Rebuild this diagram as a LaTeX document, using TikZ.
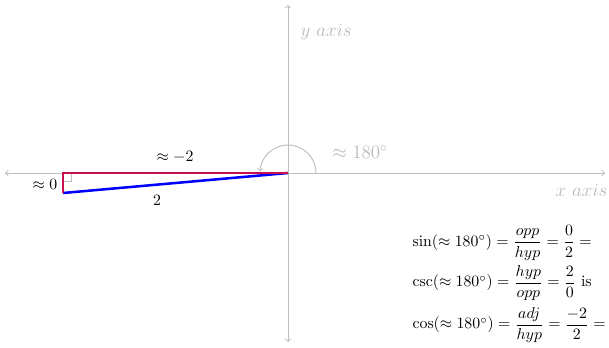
\documentclass[tikz,border=0pt]{standalone}
\usepackage{amsmath}
\definecolor{axisgray}{RGB}{190,190,190}
\definecolor{lblgray}{RGB}{185,185,185}
\definecolor{oppred}{RGB}{200,16,80}
\begin{document}
\begin{tikzpicture}[x=0.633pt,y=0.633pt,
  axis/.style={draw=axisgray,semithick},
  lbl/.style={text=lblgray,font=\fontsize{11.6}{14}\selectfont},
  side/.style={line width=1.6pt},
  txt/.style={text=black}]
\useasboundingbox (-288,-174) rectangle (321,173);
\coordinate (O) at (0,0);
\coordinate (xl) at (-283,0);
\coordinate (xr) at (317,0);
\coordinate (yt) at (0,168);
\coordinate (yb) at (0,-169);
\coordinate (A) at (-225,0);
\coordinate (B) at (-225,-20);
\coordinate (arcstart) at (28,0);
\draw[axis,<->] (xl) -- (xr);
\draw[axis,<->] (yb) -- (yt);
\node[lbl,anchor=west] (ylab) at (7,141) {$y\ axis$};
\node[lbl,anchor=west] (xlab) at (262,-17) {$x\ axis$};
\draw[axis,->] (arcstart) arc[start angle=0,end angle=177,radius=28];
\node[lbl] (anglab) at (72,21) {$\approx 180^\circ$};
\draw[axis,thin] (-225,-8) -| (-217,0);
\draw[side,blue] (B) -- (O);
\draw[side,oppred] (O) -- (A) -- (B);
\node[txt] (adjlab) at (-113,16) {$\approx -2$};
\node[txt] (opplab) at (-243,-11) {$\approx 0$};
\node[txt] (hyplab) at (-131,-27) {$2$};
\node[txt,anchor=west] (e1) at (119,-70) {$\sin(\approx 180^\circ) = \dfrac{opp}{hyp} = \dfrac{0}{2} =$};
\node[txt,anchor=west] (e2) at (119,-110) {$\csc(\approx 180^\circ) = \dfrac{hyp}{opp} = \dfrac{2}{0}$ is};
\node[txt,anchor=west] (e3) at (119,-152) {$\cos(\approx 180^\circ) = \dfrac{adj}{hyp} = \dfrac{-2}{2} =$};
\end{tikzpicture}
\end{document}
